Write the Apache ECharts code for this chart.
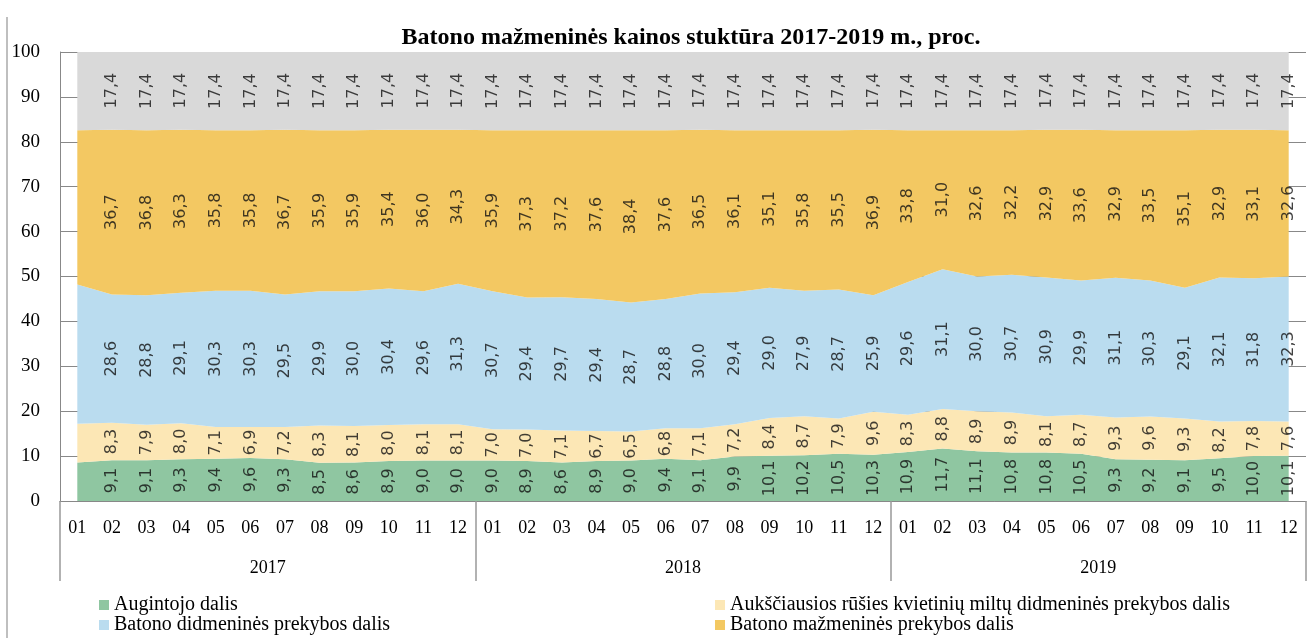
<!DOCTYPE html>
<html>
<head>
<meta charset="utf-8">
<script src="https://cdn.jsdelivr.net/npm/echarts@6/dist/echarts.min.js"></script>
<style>
html, body { margin: 0; padding: 0; background: #fff; }
#chart { width: 1307px; height: 638px; }
</style>
</head>
<body>
<div id="chart"></div>
<script>
// kategorijos
const years = ['2017', '2018', '2019'];
const months = ['01', '02', '03', '04', '05', '06', '07', '08', '09', '10', '11', '12',
  '01', '02', '03', '04', '05', '06', '07', '08', '09', '10', '11', '12',
  '01', '02', '03', '04', '05', '06', '07', '08', '09', '10', '11', '12'];

// dalys, proc.
const augintojo = [8.6, 9.1, 9.1, 9.3, 9.4, 9.6, 9.3, 8.5, 8.6, 8.9, 9.0, 9.0,
  9.0, 8.9, 8.6, 8.9, 9.0, 9.4, 9.1, 9.9, 10.1, 10.2, 10.5, 10.3,
  10.9, 11.7, 11.1, 10.8, 10.8, 10.5, 9.3, 9.2, 9.1, 9.5, 10.0, 10.1];
const miltu = [8.6, 8.3, 7.9, 8.0, 7.1, 6.9, 7.2, 8.3, 8.1, 8.0, 8.1, 8.1,
  7.0, 7.0, 7.1, 6.7, 6.5, 6.8, 7.1, 7.2, 8.4, 8.7, 7.9, 9.6,
  8.3, 8.8, 8.9, 8.9, 8.1, 8.7, 9.3, 9.6, 9.3, 8.2, 7.8, 7.6];
const didmenines = [31.0, 28.6, 28.8, 29.1, 30.3, 30.3, 29.5, 29.9, 30.0, 30.4, 29.6, 31.3,
  30.7, 29.4, 29.7, 29.4, 28.7, 28.8, 30.0, 29.4, 29.0, 27.9, 28.7, 25.9,
  29.6, 31.1, 30.0, 30.7, 30.9, 29.9, 31.1, 30.3, 29.1, 32.1, 31.8, 32.3];
const mazmenines = [34.4, 36.7, 36.8, 36.3, 35.8, 35.8, 36.7, 35.9, 35.9, 35.4, 36.0, 34.3,
  35.9, 37.3, 37.2, 37.6, 38.4, 37.6, 36.5, 36.1, 35.1, 35.8, 35.5, 36.9,
  33.8, 31.0, 32.6, 32.2, 32.9, 33.6, 32.9, 33.5, 35.1, 32.9, 33.1, 32.6];
const pvm = [17.4, 17.4, 17.4, 17.4, 17.4, 17.4, 17.4, 17.4, 17.4, 17.4, 17.4, 17.4,
  17.4, 17.4, 17.4, 17.4, 17.4, 17.4, 17.4, 17.4, 17.4, 17.4, 17.4, 17.4,
  17.4, 17.4, 17.4, 17.4, 17.4, 17.4, 17.4, 17.4, 17.4, 17.4, 17.4, 17.4];

const names = [
  'Augintojo dalis',
  'Aukščiausios rūšies kvietinių miltų didmeninės prekybos dalis',
  'Batono didmeninės prekybos dalis',
  'Batono mažmeninės prekybos dalis',
  'PVM'
];
const colors = ['#8fc6a1', '#fce7b5', '#badcef', '#f3c862', '#d9d9d9'];
const bands = [augintojo, miltu, didmenines, mazmenines, pvm];

const serif = 'Liberation Serif';
const fmt = v => v.toFixed(1).replace('.', ',');

const chart = echarts.init(document.getElementById('chart'));

const series = [];
bands.forEach((vals, k) => {
  series.push({
    name: names[k],
    type: 'line',
    stack: 'total',
    symbol: 'none',
    lineStyle: { width: 0 },
    areaStyle: { color: colors[k], opacity: 1 },
    itemStyle: { color: colors[k] },
    data: vals
  });
});

// skaičiai juostų viduryje
const base = new Array(months.length).fill(0);
bands.forEach((vals, k) => {
  const pts = [];
  vals.forEach((v, i) => {
    if (i > 0) pts.push([i, base[i] + v / 2]);
  });
  vals.forEach((v, i) => { base[i] += v; });
  series.push({
    name: 'lbl' + k,
    type: 'scatter',
    symbolSize: 1,
    itemStyle: { color: 'rgba(0,0,0,0)' },
    silent: true,
    z: 5,
    label: {
      show: true,
      position: 'inside',
      rotate: 90,
      fontFamily: 'DejaVu Sans',
      fontSize: 16,
      color: '#111',
      formatter: p => fmt(vals[p.value[0]])
    },
    data: pts
  });
});

const legendAt = (name, left, top) => ({
  data: [name],
  left: left,
  top: top,
  padding: 0,
  icon: 'rect',
  itemWidth: 10,
  itemHeight: 10,
  selectedMode: false,
  textStyle: { fontFamily: serif, fontSize: 20, color: '#000' }
});

chart.setOption({
  animation: false,
  title: {
    text: 'Batono mažmeninės kainos stuktūra 2017-2019 m., proc.',
    left: 686,
    top: 21,
    textAlign: 'center',
    textStyle: { fontFamily: serif, fontSize: 24, fontWeight: 'bold', color: '#000' }
  },
  legend: [
    legendAt(names[0], 99, 595),
    legendAt(names[2], 99, 615),
    legendAt(names[1], 715, 595),
    legendAt(names[3], 715, 615)
  ],
  grid: { left: 60, right: 1, top: 52, bottom: 137 },
  xAxis: [
    {
      type: 'category',
      data: months,
      boundaryGap: true,
      axisLine: { lineStyle: { color: '#888' } },
      axisTick: { show: false },
      axisLabel: { interval: 0, margin: 18, fontFamily: serif, fontSize: 18, color: '#000' }
    },
    {
      type: 'category',
      data: years,
      position: 'bottom',
      boundaryGap: true,
      axisLine: { show: false },
      axisTick: { show: true, length: 80, lineStyle: { color: '#999', width: 1.5 } },
      axisLabel: { margin: 58, fontFamily: serif, fontSize: 18, color: '#000' }
    }
  ],
  yAxis: {
    type: 'value',
    min: 0,
    max: 100,
    interval: 10,
    axisLine: { show: true, lineStyle: { color: '#888' } },
    axisTick: { show: false },
    splitLine: { lineStyle: { color: '#888' } },
    axisLabel: { margin: 20, fontFamily: serif, fontSize: 19, color: '#000' }
  },
  graphic: [
    {
      type: 'line',
      shape: { x1: 7, y1: 17, x2: 7, y2: 638 },
      style: { stroke: '#aaa', lineWidth: 1.5 }
    }
  ],
  series: series
});
</script>
</body>
</html>
